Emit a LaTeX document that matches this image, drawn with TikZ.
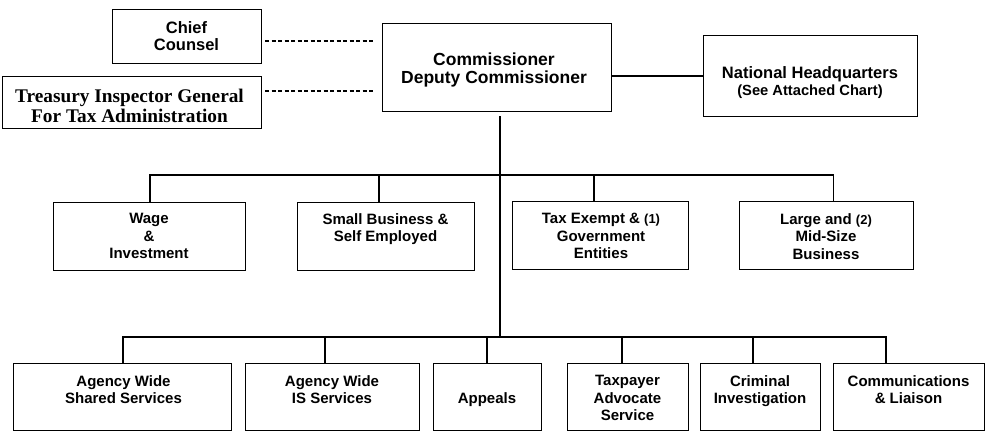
\documentclass[tikz,border=0pt]{standalone}
\usepackage{fontspec}
\setmainfont{Liberation Sans}
\newfontfamily\tnr{Liberation Serif}
\begin{document}
\begin{tikzpicture}[x=1pt,y=-1pt,
  box/.style={draw, line width=1.2pt, inner sep=0pt, anchor=north west},
  txt/.style={inner sep=0pt, align=center, anchor=north, font=\bfseries\fontsize{15}{17.5}\selectfont},
  ln/.style={line width=1.2pt},
  mainln/.style={line width=1.8pt},
  dashln/.style={line width=1.1pt, dash pattern=on 4pt off 2.5pt}]
\useasboundingbox (0,0) rectangle (985,431);
% boxes
\node[box, minimum width=149pt, minimum height=54pt] (chief) at (112,9) {};
\node[box, minimum width=259pt, minimum height=52pt] (tigta) at (2,76) {};
\node[box, minimum width=229pt, minimum height=88pt] (comm) at (382,23) {};
\node[box, minimum width=214pt, minimum height=81pt] (nhq) at (703,35) {};
\node[box, minimum width=192pt, minimum height=68pt] (wage) at (53,202) {};
\node[box, minimum width=177pt, minimum height=68pt] (sb) at (297,202) {};
\node[box, minimum width=176pt, minimum height=68pt] (te) at (512,201) {};
\node[box, minimum width=174pt, minimum height=68pt] (lm) at (739,201) {};
\node[box, minimum width=218pt, minimum height=67pt] (as) at (13,363) {};
\node[box, minimum width=174pt, minimum height=67pt] (is) at (245,363) {};
\node[box, minimum width=108pt, minimum height=67pt] (ap) at (433,363) {};
\node[box, minimum width=121pt, minimum height=67pt] (tp) at (567,363) {};
\node[box, minimum width=120pt, minimum height=67pt] (ci) at (700,363) {};
\node[box, minimum width=151pt, minimum height=67pt] (cl) at (833,363) {};
% texts
\node[txt, font=\bfseries\fontsize{16.5}{17}\selectfont] (chieft) at (186.5,21) {Chief\\Counsel};
\node[txt, font=\tnr\bfseries\fontsize{19.3}{19.5}\selectfont] (tigtat) at (129.5,89) {Treasury Inspector General\\For Tax Administration};
\node[txt, font=\bfseries\fontsize{17.5}{18}\selectfont] (commt) at (494,53) {Commissioner\\Deputy Commissioner};
\node[txt, font=\bfseries\fontsize{16.5}{17.5}\selectfont] (nhqt) at (810,66) {National Headquarters\\{\fontsize{14.7}{17.5}\selectfont (See Attached Chart)}};
\node[txt] (waget) at (149,213) {Wage\\\&\\Investment};
\node[txt] (sbt) at (385.5,213) {Small Business \&\\Self Employed};
\node[txt] (tet) at (601,213) {Tax Exempt \& {\fontsize{13}{17.5}\selectfont(1)}\\Government\\Entities};
\node[txt] (lmt) at (826,213) {Large and {\fontsize{13}{17.5}\selectfont(2)}\\Mid-Size\\Business};
\node[txt] (ast) at (123.5,375) {Agency Wide\\Shared Services};
\node[txt] (ist) at (332,375) {Agency Wide\\IS Services};
\node[txt] (apt) at (487,392) {Appeals};
\node[txt] (tpt) at (627.5,375) {Taxpayer\\Advocate\\Service};
\node[txt] (cit) at (760,375) {Criminal\\Investigation};
\node[txt] (clt) at (908.5,375) {Communications\\\& Liaison};
% junction coordinates
\coordinate (mtop) at (500,116);
\coordinate (mmid) at (500,175);
\coordinate (mbot) at (500,337);
% connectors
\draw[dashln] ([xshift=3pt]chief.east |- 0,41) -- ([xshift=-7pt]comm.west |- 0,41);
\draw[dashln] ([xshift=3pt]tigta.east |- 0,91) -- ([xshift=-7pt]comm.west |- 0,91);
\draw[ln] (comm.east |- 0,76) -- (nhq.west |- 0,76);
\draw[mainln] (mtop) -- (mbot);
\draw[ln] (wage.north -| 150,0) |- (mmid) -| ([xshift=7pt]lm.north);
\draw[ln] (sb.north -| 379,0) -- (379,175);
\draw[ln] (te.north -| 594,0) -- (594,175);
\draw[ln] (as.north -| 123,0) |- (mbot) -| (cl.north -| 886,0);
\draw[ln] (is.north -| 325,0) -- (325,337);
\draw[ln] (ap.north -| 487,0) -- (487,337);
\draw[ln] (tp.north -| 622,0) -- (622,337);
\draw[ln] (ci.north -| 753,0) -- (753,337);
\end{tikzpicture}
\end{document}
